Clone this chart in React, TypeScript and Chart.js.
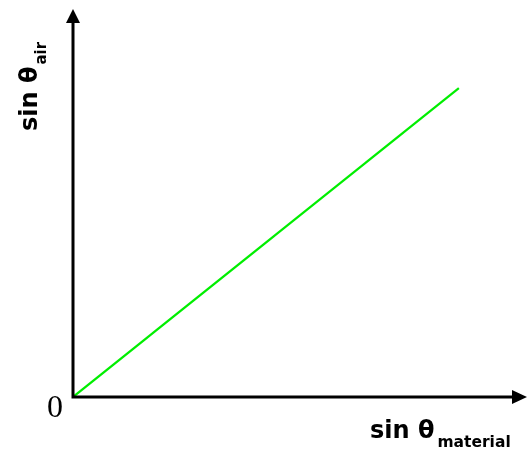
import React, { useEffect, useRef } from "react";
import { Chart, registerables } from "chart.js";

Chart.register(...registerables);

const xValues = [0, 0.879];
const yValues = [0, 0.826];
const xLabelMain = "sin θ";
const xLabelSub = "material";
const yLabelMain = "sin θ";
const yLabelSub = "air";
const originLabel = "0";

const axesPlugin = {
  id: "arrowAxes",
  afterDraw(chart: any) {
    const ctx = chart.ctx;
    const xs = chart.scales.x;
    const ys = chart.scales.y;
    const x0 = xs.getPixelForValue(0);
    const y0 = ys.getPixelForValue(0);
    const top = chart.chartArea.top;
    const right = chart.chartArea.right;
    ctx.save();
    ctx.strokeStyle = "#000";
    ctx.fillStyle = "#000";
    ctx.lineWidth = 3;
    ctx.beginPath();
    ctx.moveTo(x0, y0 + 1.5);
    ctx.lineTo(x0, top);
    ctx.moveTo(x0 - 1.5, y0);
    ctx.lineTo(right, y0);
    ctx.stroke();
    // arrow heads
    ctx.beginPath();
    ctx.moveTo(x0, top - 14);
    ctx.lineTo(x0 - 7, top);
    ctx.lineTo(x0 + 7, top);
    ctx.closePath();
    ctx.fill();
    ctx.beginPath();
    ctx.moveTo(right + 15, y0);
    ctx.lineTo(right, y0 - 7);
    ctx.lineTo(right, y0 + 7);
    ctx.closePath();
    ctx.fill();

    // origin label
    ctx.font = "32px 'Liberation Serif', 'DejaVu Serif', serif";
    ctx.textBaseline = "alphabetic";
    ctx.textAlign = "right";
    ctx.fillText(originLabel, x0 - 10, y0 + 20);

    // x label
    ctx.textAlign = "left";
    ctx.font = "bold 24px 'DejaVu Sans', sans-serif";
    const xl = 370;
    const xb = y0 + 41;
    ctx.fillText(xLabelMain, xl, xb);
    const w1 = ctx.measureText(xLabelMain).width;
    ctx.font = "bold 15.5px 'DejaVu Sans', sans-serif";
    ctx.fillText(xLabelSub, xl + w1 + 3, xb + 9);

    // y label rotated
    ctx.translate(37, 131);
    ctx.rotate(-Math.PI / 2);
    ctx.font = "bold 24px 'DejaVu Sans', sans-serif";
    ctx.fillText(yLabelMain, 0, 0);
    const w2 = ctx.measureText(yLabelMain).width;
    ctx.font = "bold 15px 'DejaVu Sans', sans-serif";
    ctx.fillText(yLabelSub, w2 + 2, 9);
    ctx.restore();
  },
};

export default function App() {
  const ref = useRef<HTMLCanvasElement | null>(null);
  useEffect(() => {
    if (!ref.current) return;
    const chart = new Chart(ref.current, {
      type: "scatter",
      data: {
        datasets: [
          {
            data: xValues.map((x, i) => ({ x, y: yValues[i] })),
            showLine: true,
            borderColor: "#00ee00",
            borderWidth: 2.2,
            pointRadius: 0,
            fill: false,
          },
        ],
      },
      options: {
        animation: false,
        responsive: false,
        maintainAspectRatio: false,
        layout: { padding: { left: 73, right: 15, top: 23, bottom: 53 } },
        plugins: { legend: { display: false }, tooltip: { enabled: false } },
        scales: {
          x: { type: "linear", min: 0, max: 1, display: false },
          y: { type: "linear", min: 0, max: 1, display: false },
        },
      },
      plugins: [axesPlugin],
    });
    return () => chart.destroy();
  }, []);
  return (
    <div style={{ position: "absolute", left: 0, top: 0, width: 527, height: 450, background: "#fff" }}>
      <canvas ref={ref} width={527} height={450} style={{ width: 527, height: 450 }} />
    </div>
  );
}
